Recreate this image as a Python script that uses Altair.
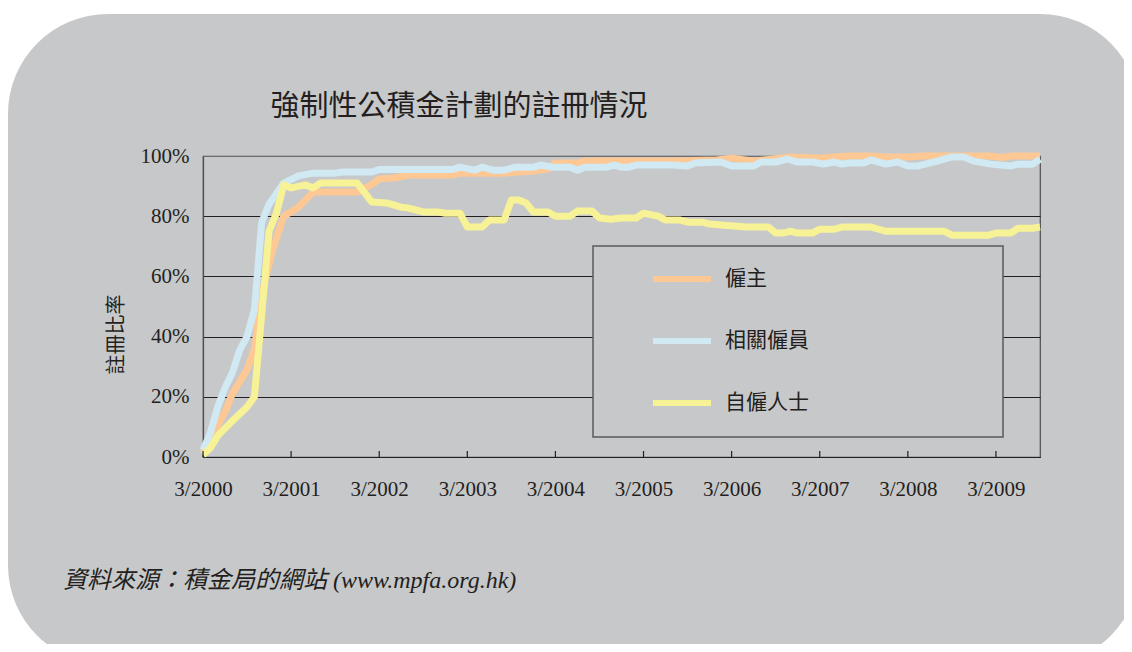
import altair as alt
import pandas as pd

# ---------------- data ----------------
series_names = ["僱主", "相關僱員", "自僱人士"]
series_colors = ["#fdc893", "#d0e9f2", "#f8f297"]

# month offsets from 3/2000, percentage registered
employer_month = [0, 1, 3, 4, 6, 7, 8, 9.5, 11, 13, 15, 21, 23, 24, 26, 28, 34, 35, 41, 43,
                  45, 47, 48, 51, 52, 64, 70, 72, 75, 80, 84, 88, 91, 93, 96, 98, 107, 109, 110, 114]
employer_pct = [1.5, 6, 15, 21, 29, 36, 54, 69, 80, 83, 88, 88, 90.5, 92.4, 92.7, 93.7, 93.7, 94.3, 94.3, 94.7,
                95, 95.7, 97.7, 97.7, 98.3, 98.3, 98.7, 99.3, 98.3, 99.7, 99.3, 100, 100, 99.7, 99.7, 100, 100, 99.5, 100, 100]

employee_month = [0, 1, 2, 3, 4, 5, 6, 7, 8, 9, 11, 13, 15, 18, 19, 23, 24, 34, 35, 37,
                  38, 39.5, 41, 42.5, 45, 46, 47.5, 50, 51, 52, 55, 56, 57, 58, 59, 64, 66, 67, 70.5, 72,
                  75, 76, 78, 79.6, 81, 83, 84.5, 86, 87, 88, 90, 91, 93, 94.6, 96, 97.4, 100, 102, 103.6, 105,
                  107.3, 110, 111, 113, 114]
employee_pct = [2.3, 8, 16.6, 23, 28, 35.5, 40, 49, 78, 84, 91, 93.4, 94.3, 94.3, 94.7, 94.7, 95.5, 95.5, 96.3, 95.3,
                96.3, 95.3, 95.3, 96.3, 96.3, 97, 96.3, 96.3, 95.3, 96.3, 96.3, 97, 96.3, 96.3, 97, 97, 96.7, 97.7, 98, 96.7,
                96.7, 98, 98, 99, 98, 98, 97.3, 98, 97.3, 97.7, 97.7, 98.7, 97.3, 98, 96.7, 96.7, 98.3, 99.7, 99.7, 98.3,
                97.3, 96.7, 97.3, 97.3, 99]

self_month = [0, 1, 2, 4, 6, 7, 9, 10, 11, 12, 14, 15, 16, 21, 23, 25, 27, 28, 30, 32,
              33, 35, 36, 38, 39, 41, 42, 43, 44, 45, 47, 48, 50, 51, 53, 54, 55.5, 57, 59, 60,
              62, 63, 65, 66, 68, 69, 71, 74, 77, 78, 79, 80, 81, 83, 84, 86, 87, 91, 93, 101,
              102, 107, 108, 110, 111, 113, 114]
self_pct = [0.7, 3, 7, 12, 16.6, 20, 75, 81, 90.4, 89.4, 90.4, 89.4, 91, 91, 84.7, 84.4, 83, 82.7, 81.4, 81.4,
            81, 81, 76.4, 76.4, 78.7, 78.7, 85.4, 85.4, 84.4, 81.4, 81.4, 80, 80, 81.7, 81.7, 79.4, 79, 79.4, 79.4, 81,
            80, 78.7, 78.7, 78, 78, 77.4, 77, 76.4, 76.4, 74.4, 74.4, 75, 74.4, 74.4, 75.7, 75.7, 76.4, 76.4, 75, 75,
            73.7, 73.7, 74.4, 74.4, 76, 76, 76.4]

tick_months = [0, 12, 24, 36, 48, 60, 72, 84, 96, 108]
tick_labels = ["3/2000", "3/2001", "3/2002", "3/2003", "3/2004",
               "3/2005", "3/2006", "3/2007", "3/2008", "3/2009"]
y_ticks = [0, 20, 40, 60, 80, 100]

title_text = "強制性公積金計劃的註冊情況"
y_title = "註冊比率"
source_text = "資料來源：積金局的網站 (www.mpfa.org.hk)"

# ---------------- build table ----------------
rows = []
for name, months, pcts in zip(series_names,
                              [employer_month, employee_month, self_month],
                              [employer_pct, employee_pct, self_pct]):
    for m, p in zip(months, pcts):
        rows.append({"series": name, "month": m, "pct": p})
df = pd.DataFrame(rows)
tick_df = pd.DataFrame({"month": tick_months})

label_expr = "[" + ",".join("'" + t + "'" for t in tick_labels) + "][round(datum.value / 12)]"

INK = "#231f20"
BG = "#c7c8ca"
CJK = "Noto Sans CJK TC"

x_scale = alt.Scale(domain=[0, 114], nice=False, zero=False)
y_scale = alt.Scale(domain=[0, 100], nice=False)

# white rounded-corner frame (outside the grey panel)
corners = alt.Chart(alt.Data(values=[{}])).mark_rect(
    stroke="white", strokeWidth=80, fillOpacity=0, cornerRadius=140
).encode(x=alt.value(-235), x2=alt.value(977), y=alt.value(-182), y2=alt.value(549))

# legend box
legend_box = alt.Chart(alt.Data(values=[{}])).mark_rect(
    fill=BG, stroke="#58595b", strokeWidth=1.5
).encode(x=alt.value(390), x2=alt.value(800), y=alt.value(90), y2=alt.value(281))

lines = alt.Chart(df).mark_line(strokeWidth=7, strokeJoin="round").encode(
    x=alt.X("month:Q", scale=x_scale,
            axis=alt.Axis(values=tick_months, labelExpr=label_expr, title=None, grid=False,
                          ticks=False, labelFlush=False, labelFont="Liberation Serif",
                          labelFontSize=21, labelColor=INK, labelPadding=21,
                          domainColor=INK, domainWidth=1.2)),
    y=alt.Y("pct:Q", scale=y_scale,
            axis=alt.Axis(values=y_ticks, labelExpr="datum.value + '%'", title=y_title,
                          grid=True,
                          gridColor={"condition": {"test": "datum.value === 100", "value": "#6d6e71"},
                                     "value": INK},
                          gridWidth=1.2, ticks=False, labelFont="Liberation Serif",
                          labelFontSize=21, labelColor=INK, labelPadding=14,
                          domainColor="#4d4d4f", domainWidth=1.2,
                          titleFont=CJK, titleFontSize=20, titleFontWeight="normal",
                          titleColor=INK, titleX=-87, titleY=178, titleAngle=270,
                          titleBaseline="middle", titleAlign="center")),
    color=alt.Color("series:N",
                    scale=alt.Scale(domain=series_names, range=series_colors),
                    legend=alt.Legend(orient="none", legendX=447, legendY=91, title=None,
                                      symbolType="stroke", symbolSize=3364, symbolStrokeWidth=6,
                                      labelFont=CJK, labelFontSize=21, labelColor=INK,
                                      labelOffset=11, rowPadding=18, padding=0, labelLimit=300)),
)

ticks = alt.Chart(tick_df).mark_rule(color=INK, strokeWidth=1.2).encode(
    x=alt.X("month:Q", scale=x_scale),
    y=alt.value(295), y2=alt.value(301),
)

title = alt.Chart(alt.Data(values=[{"t": title_text}])).mark_text(
    align="center", baseline="middle", font=CJK, fontSize=29, color=INK
).encode(text="t:N", x=alt.value(256), y=alt.value(-49))

source = alt.Chart(alt.Data(values=[{"t": source_text}])).mark_text(
    align="left", baseline="middle", font="Liberation Serif, 'Noto Sans CJK TC'",
    fontSize=24, fontStyle="italic", color=INK
).encode(text="t:N", x=alt.value(-140), y=alt.value(425))

chart = alt.layer(corners, legend_box, lines, ticks, title, source).properties(
    width=837, height=301,
    padding={"left": 195, "top": 148, "right": 84, "bottom": 187},
    autosize=alt.AutoSizeParams(type="none"),
    background=BG,
).configure_view(stroke="#4d4d4f", strokeWidth=1.2)

chart.save("out.html", embed_options={"renderer": "svg", "actions": False})
